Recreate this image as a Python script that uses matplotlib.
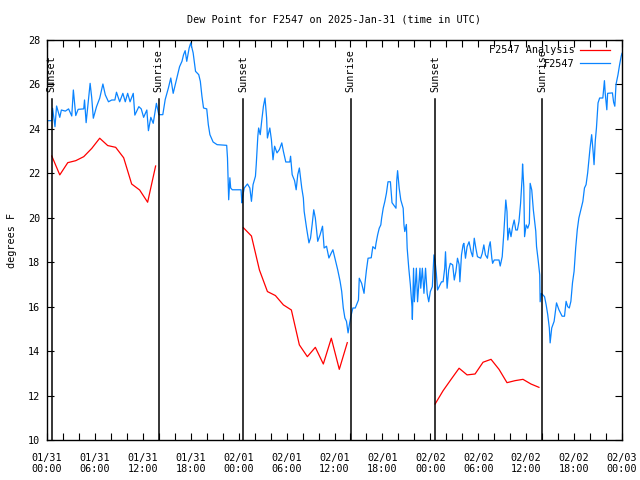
import datetime as dt
import numpy as np
import matplotlib
matplotlib.use("Agg")
import matplotlib.pyplot as plt
import matplotlib.dates as mdates

plt.rcParams['font.family'] = ['DejaVu Sans Mono']
plt.rcParams['font.size'] = 7.3

start = dt.datetime(2025, 1, 31, 0, 0)

# observed dew point (hours after 01/31 00:00 UTC, deg F)
obs_hours = [0.0, 0.6, 0.7, 1.0, 1.2, 1.6, 1.8, 2.3, 2.7, 3.1, 3.3, 3.6, 3.9, 4.6, 4.7, 4.9,
             5.4, 5.6, 5.8, 6.2, 6.6, 7.0, 7.3, 7.7, 8.1, 8.5, 8.7, 9.1, 9.5, 9.8, 10.1, 10.4,
             10.8, 11.0, 11.5, 11.8, 12.1, 12.5, 12.7, 13.0, 13.3, 13.7, 14.0,
             14.5, 14.8, 15.2, 15.5, 15.8, 16.2, 16.6, 16.9, 17.1, 17.3, 17.5, 17.8, 18.0,
             18.3, 18.6, 19.0, 19.2, 19.4, 19.6, 20.0, 20.2, 20.4, 20.8, 21.3, 22.5, 22.6,
             22.65, 22.75, 22.9, 23.0, 23.2, 24.3, 24.4, 24.5, 24.7, 25.1, 25.4, 25.6, 25.8,
             26.1, 26.2, 26.4, 26.5, 26.7, 26.9, 27.1, 27.3, 27.5, 27.6, 27.9, 28.1, 28.3,
             28.5, 28.8, 29.1, 29.4, 29.6, 29.9, 30.4, 30.5, 30.7, 31.0, 31.2, 31.4, 31.6,
             31.9, 32.1, 32.2, 32.5, 32.8, 33.0, 33.2, 33.4, 33.6, 33.9, 34.2, 34.5, 34.7,
             35.0, 35.3, 35.6, 35.8, 36.1, 36.4, 36.7, 36.9, 37.1, 37.3, 37.5, 37.7, 37.9,
             38.1, 38.3, 38.6, 39.0, 39.1, 39.4, 39.7, 39.8, 40.0, 40.2, 40.6, 40.8, 41.1,
             41.2, 41.4, 41.6, 41.8, 41.9, 42.1, 42.3, 42.5, 42.7, 43.0, 43.2, 43.4, 43.7,
             43.8, 43.9, 44.1, 44.3, 44.6, 44.7, 44.8, 45.0, 45.1, 45.3, 45.5, 45.7, 45.75,
             45.9, 46.0, 46.25, 46.4, 46.7, 46.8, 47.0, 47.2, 47.4, 47.6, 47.8, 48.0, 48.25,
             48.45, 48.6, 48.75, 48.9, 49.1, 49.4, 49.6, 49.8, 49.9, 50.1, 50.3, 50.5, 50.8,
             51.0, 51.2, 51.4, 51.6, 51.7, 51.9, 52.1, 52.2, 52.4, 52.6, 52.85, 53.1, 53.3,
             53.5, 53.7, 53.9, 54.3, 54.5, 54.7, 54.9, 55.15, 55.35, 55.5, 55.7, 55.8, 56.0,
             56.6, 56.75, 57.0, 57.2, 57.45, 57.6, 57.7, 57.9, 58.1, 58.3, 58.5, 58.7, 58.9,
             59.1, 59.3, 59.5, 59.55, 59.7, 59.8, 60.0, 60.2, 60.4, 60.5, 60.7, 60.9, 61.2,
             61.3, 61.5, 61.7, 61.75, 61.9, 62.3, 62.5, 62.7, 62.9, 63.0, 63.2, 63.5, 63.8,
             64.1, 64.5, 64.8, 65.0, 65.2, 65.4, 65.6, 65.8, 66.0, 66.2, 66.4, 66.6, 66.9,
             67.1, 67.3, 67.5, 67.7, 67.8, 68.0, 68.2, 68.4, 68.5, 68.65, 68.8, 69.0, 69.2,
             69.6, 69.8, 69.9, 70.1, 70.2, 70.8, 70.95, 71.1, 71.25, 71.5, 71.7, 71.9, 72.0]
obs_dewpt = [24.37, 24.37, 24.93, 24.1, 25.03, 24.52, 24.85, 24.8, 24.9, 24.58, 25.75, 24.6,
             24.88, 24.9, 25.3, 24.28, 26.05, 25.4, 24.48, 25.0, 25.38, 26.02, 25.53, 25.22,
             25.3, 25.3, 25.65, 25.22, 25.6, 25.22, 25.6, 25.22, 25.6, 24.62, 25.0, 24.9,
             24.52, 24.85, 23.92, 24.52, 24.25, 25.15, 24.64,
             24.64, 25.32, 25.84, 26.29, 25.6, 26.2, 26.8, 27.04, 27.34, 27.52, 27.04, 27.64,
             27.87, 27.42, 26.59, 26.44, 26.14, 25.47, 24.94, 24.9, 24.19, 23.74, 23.41, 23.29,
             23.26, 22.69, 22.09, 20.81, 21.8, 21.34, 21.26, 21.26, 20.67, 20.96, 21.34, 21.52,
             21.34, 20.74, 21.49, 21.87, 22.39, 23.67, 24.04, 23.74, 24.41, 25.02, 25.39, 24.49,
             23.59, 24.04, 23.51, 22.61, 23.22, 22.92, 23.07, 23.37, 22.99, 22.51, 22.51, 22.77,
             21.94, 21.67, 21.26, 21.94, 22.24, 21.34, 20.89, 20.29, 19.54, 18.87, 19.09, 19.69,
             20.36, 19.99, 18.94, 19.24, 19.62, 18.64, 18.72, 18.19, 18.42, 18.56, 18.11, 17.66,
             17.14, 16.69, 15.94, 15.49, 15.34, 14.82, 15.27, 15.64, 15.94, 15.94, 16.3, 17.28,
             17.05, 16.6, 17.0, 17.65, 18.18, 18.2, 18.7, 18.6, 18.85, 19.23, 19.53, 19.68,
             19.98, 20.43, 20.73, 21.1, 21.62, 21.62, 20.68, 20.58, 20.43, 21.7, 22.12, 21.33,
             20.8, 20.43, 19.68, 19.38, 19.7, 18.63, 17.73, 16.98, 16.0, 15.43, 17.73, 16.22,
             17.73, 16.22, 17.73, 16.83, 17.73, 16.6, 17.73, 16.6, 16.22, 16.68, 16.9, 18.33,
             18.03, 17.5, 16.75, 16.9, 17.12, 17.12, 17.73, 18.47, 16.83, 17.65, 17.95, 17.88,
             17.2, 17.58, 18.18, 17.9, 17.12, 18.33, 18.78, 18.85, 18.18, 18.7, 18.92, 18.47,
             18.25, 19.08, 18.63, 18.25, 18.18, 18.4, 18.78, 18.33, 18.18, 18.7, 18.92, 18.18,
             17.95, 18.1, 18.1, 17.83, 18.25, 19.3, 20.8, 20.28, 19.0, 19.53, 19.15, 19.6, 19.9,
             19.45, 19.45, 19.83, 20.65, 21.85, 22.42, 21.4, 19.15, 19.68, 19.53, 19.75, 21.55,
             21.25, 20.35, 19.4, 18.7, 18.1, 17.43, 16.22, 16.6, 16.45, 16.09, 15.64, 15.04,
             14.37, 15.04, 15.34, 16.17, 15.86, 15.57, 15.57, 16.24, 16.0, 15.94, 16.24, 17.07,
             17.59, 18.64, 19.46, 19.99, 20.44, 20.74, 21.34, 21.49, 22.02, 22.39, 23.14, 23.74,
             22.9, 22.39, 23.44, 24.04, 25.17, 25.39, 25.39, 26.17, 25.6, 24.86, 25.6, 25.62,
             25.2, 25.02, 26.0, 26.44, 26.89, 27.27, 27.4]

# analysis values, hourly during the night
anl_start = [0.6, 24.6, 48.6]
anl_dewpt = [
    [22.78, 21.93, 22.48, 22.57, 22.75, 23.12, 23.58, 23.25, 23.17, 22.7, 21.52, 21.25, 20.7, 22.33],
    [19.55, 19.18, 17.65, 16.68, 16.5, 16.08, 15.85, 14.28, 13.75, 14.17, 13.42, 14.58, 13.18, 14.38],
    [11.62, 12.22, 12.73, 13.23, 12.93, 12.97, 13.5, 13.63, 13.18, 12.58, 12.67, 12.73, 12.52, 12.37],
]

sunset_hours = [0.58, 24.55, 48.6]
sunrise_hours = [13.97, 38.03, 62.0]


def to_time(h):
    return start + dt.timedelta(hours=h)


anl_t = []
anl_v = []
for s, vals in zip(anl_start, anl_dewpt):
    for k, v in enumerate(vals):
        anl_t.append(to_time(s + k))
        anl_v.append(v)
    anl_t.append(to_time(s + len(vals) - 0.5))
    anl_v.append(np.nan)

fig = plt.figure(figsize=(6.4, 4.8), dpi=100)
ax = fig.add_axes([47 / 640, 40 / 480, 575 / 640, 400 / 480])

ax.plot(anl_t, anl_v, color='#ff0000', lw=0.9, label='F2547 Analysis')
ax.plot([to_time(h) for h in obs_hours], obs_dewpt, color='#0a84ff', lw=0.9, label='F2547')

for h in sunset_hours:
    ax.plot([to_time(h), to_time(h)], [10, 25.33], color='black', lw=1.1)
    ax.text(to_time(h), 25.66, 'Sunset', rotation=90, ha='center', va='bottom')
for h in sunrise_hours:
    ax.plot([to_time(h), to_time(h)], [10, 25.33], color='black', lw=1.1)
    ax.text(to_time(h), 25.66, 'Sunrise', rotation=90, ha='center', va='bottom')

ax.set_xlim(start, to_time(72))
ax.set_ylim(10, 28)
ax.set_yticks(np.arange(10, 29, 2))
ax.xaxis.set_major_locator(mdates.HourLocator(byhour=[0, 6, 12, 18]))
ax.xaxis.set_minor_locator(mdates.HourLocator(byhour=range(0, 24, 2)))
ax.xaxis.set_major_formatter(mdates.DateFormatter('%m/%d\n%H:%M'))
ax.tick_params(which='both', direction='in', top=True, right=True, width=0.8)
ax.tick_params(which='major', length=5)
ax.tick_params(which='minor', length=5)
ax.tick_params(axis='x', pad=9)
ax.tick_params(axis='y', pad=5)
for sp in ax.spines.values():
    sp.set_linewidth(1.0)

ax.set_ylabel('degrees F', labelpad=8)
fig.text(334 / 640, 1 - 19 / 480, 'Dew Point for F2547 on 2025-Jan-31 (time in UTC)',
         ha='center', va='center')

ax.legend(loc='upper right', bbox_to_anchor=(0.992, 1.005), frameon=False, markerfirst=False,
          handlelength=3.0, handletextpad=0.5, labelspacing=0.35, borderaxespad=0.3)

fig.savefig('out.png', dpi=100)
